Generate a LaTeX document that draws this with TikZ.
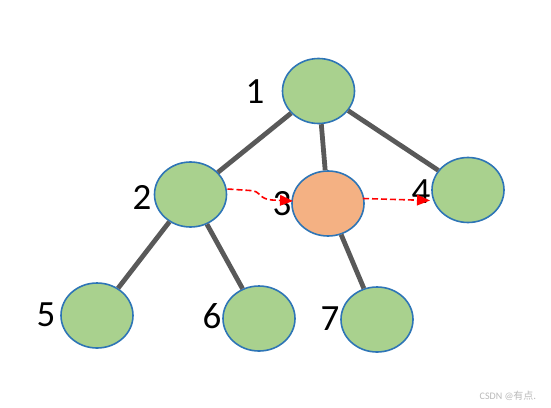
\documentclass[tikz,border=0pt]{standalone}
\usepackage{fontspec}
\setmainfont{Carlito}
\newfontfamily\cjkfont{Noto Sans CJK SC}
\usetikzlibrary{shapes.geometric,arrows.meta}
\definecolor{leafgreen}{HTML}{A9D18E}
\definecolor{rimblue}{HTML}{2E75B6}
\definecolor{peach}{HTML}{F4B183}
\definecolor{edgegray}{HTML}{595959}
\tikzset{
  treenode/.style={ellipse, draw=rimblue, line width=1.6pt, fill=leafgreen, minimum width=72pt, minimum height=65pt, inner sep=0pt},
  hotnode/.style={treenode, fill=peach},
  treeedge/.style={draw=edgegray, line width=4.8pt},
  numlabel/.style={font=\fontsize{37}{40}\selectfont, inner sep=0pt},
  visitarrow/.style={draw=red, line width=1.6pt, dash pattern=on 6pt off 3pt, -{Triangle[length=13pt,width=11pt,fill=red,line width=0pt]}}
}
\begin{document}
\begin{tikzpicture}[x=1pt,y=-1pt]
\useasboundingbox (0,0) rectangle (551,407);
\node[treenode] (n1) at (318.5,91) {};
\node[treenode] (n2) at (190.5,194.5) {};
\node[hotnode] (n3) at (328,203.5) {};
\node[treenode] (n4) at (468,190) {};
\node[treenode] (n5) at (97,315.5) {};
\node[treenode] (n6) at (259,318.5) {};
\node[treenode] (n7) at (377,319.5) {};
\draw[treeedge] (n1) -- (n2);
\draw[treeedge] (n1) -- (n3);
\draw[treeedge] (n1) -- (n4);
\draw[treeedge] (n2) -- (n5);
\draw[treeedge] (n2) -- (n6);
\draw[treeedge] (n3) -- (n7);
\node[numlabel] (l1) at (255,92) {1};
\node[numlabel] (l2) at (142,197) {2};
\node[numlabel] (l3) at (282,204) {3};
\node[numlabel] (l4) at (421,192) {4};
\node[numlabel] (l5) at (46,315) {5};
\node[numlabel] (l6) at (212,316) {6};
\node[numlabel] (l7) at (330,319) {7};
\coordinate (a2) at (227.5,189);
\coordinate (b3) at (293,201);
\coordinate (a3) at (363,198.5);
\coordinate (b4) at (430,200.5);
\draw[visitarrow] (a2) -- (250,190.5) .. controls (262,191) and (258,199) .. (272,200) -- (b3);
\draw[visitarrow] (a3) -- (b4);
\node[text=gray!55, font=\fontsize{10}{11}\selectfont, inner sep=0pt] (wm) at (508,396) {CSDN @{\cjkfont 有点.}};
\end{tikzpicture}
\end{document}
